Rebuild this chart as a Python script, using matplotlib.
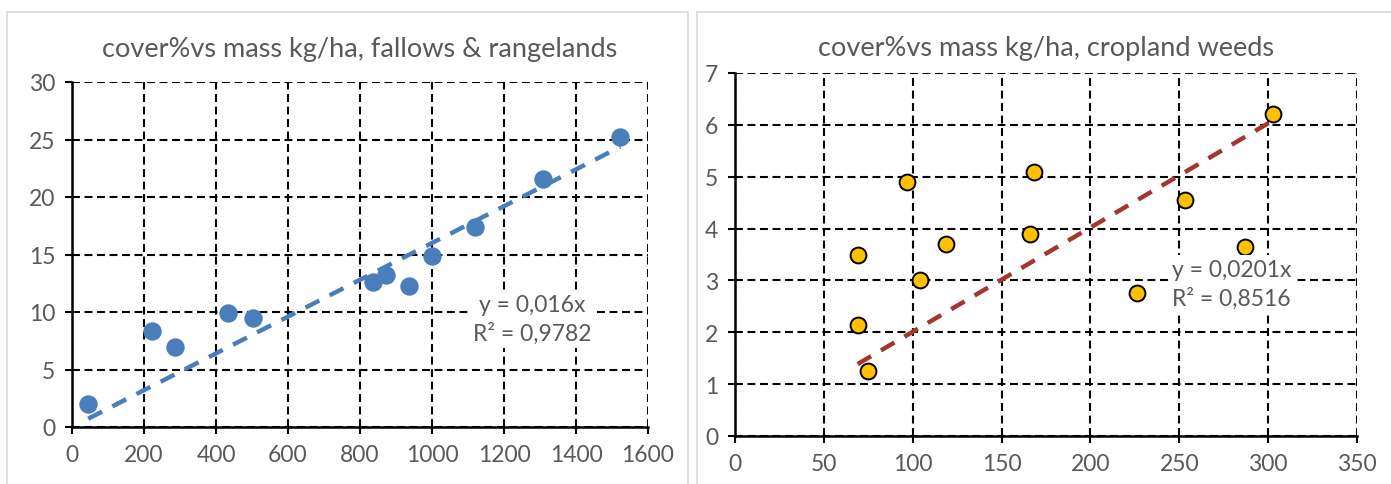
import matplotlib.pyplot as plt
from matplotlib.patches import Rectangle

# fallows & rangelands
mass_range = [45, 222, 285, 432, 502, 836, 872, 937, 1000, 1120, 1308, 1523]
cover_range = [2.0, 8.35, 6.95, 9.95, 9.5, 12.6, 13.2, 12.3, 14.9, 17.4, 21.6, 25.2]
slope_range = "0,016"
r2_range = "0,9782"

# cropland weeds
mass_crop = [69, 69, 75, 97, 104, 119, 166, 168, 226, 253, 287, 303]
cover_crop = [3.5, 2.15, 1.25, 4.9, 3.0, 3.7, 3.9, 5.1, 2.75, 4.55, 3.65, 6.2]
slope_crop = "0,0201"
r2_crop = "0,8516"

plt.rcParams['font.family'] = ['Lato', 'DejaVu Sans']
grey = "#595959"

fig = plt.figure(figsize=(13.91, 4.85), dpi=100)
W, H = 1391, 485

# chart area frames
fig.patches.append(Rectangle((7 / W, -0.01), 681 / W, 1 - 13 / H + 0.01, transform=fig.transFigure,
                             fill=False, edgecolor="#D9D9D9", lw=1.2))
fig.patches.append(Rectangle((697 / W, -0.01), 700 / W, 1 - 13 / H + 0.01, transform=fig.transFigure,
                             fill=False, edgecolor="#D9D9D9", lw=1.2))


def style(ax, xmax, xstep, ymax, ystep):
    ax.set_xlim(0, xmax)
    ax.set_ylim(0, ymax)
    ax.set_xticks(range(0, xmax + 1, xstep))
    ax.set_yticks(range(0, ymax + 1, ystep))
    ax.grid(True, color="black", linestyle=(0, (3.8, 2.2)), linewidth=1.5)
    ax.set_axisbelow(True)
    for s in ["top", "right"]:
        ax.spines[s].set_visible(False)
    for s in ["left", "bottom"]:
        ax.spines[s].set_linewidth(1.8)
    ax.tick_params(direction="out", length=5, width=1.5, labelsize=16.5, labelcolor=grey, pad=7)


def num(s):
    return float(s.replace(",", "."))


ax1 = fig.add_axes([72 / W, 1 - 428 / H, 576 / W, 345 / H])
style(ax1, 1600, 200, 30, 5)
xs = [min(mass_range), max(mass_range)]
ax1.plot(xs, [num(slope_range) * x for x in xs], color="#4A7EBB", lw=3.2, linestyle=(0, (3.5, 2.6)), zorder=3)
ax1.scatter(mass_range, cover_range, s=150, color="#4A7EBB", zorder=4)
ax1.set_title("cover%vs mass kg/ha, fallows & rangelands", fontsize=19.5, color=grey, pad=19)
ax1.text(1278, 9.4, f"y = {slope_range}x\nR² = {r2_range}", ha="center", va="center",
         fontsize=16.5, color=grey, linespacing=1.4, zorder=5,
         bbox=dict(facecolor="white", edgecolor="none", pad=3))

ax2 = fig.add_axes([735 / W, 1 - 437 / H, 622 / W, 363 / H])
style(ax2, 350, 50, 7, 1)
xs = [min(mass_crop), max(mass_crop)]
ax2.plot(xs, [num(slope_crop) * x for x in xs], color="#A5352F", lw=3.2, linestyle=(0, (3.5, 2.6)), zorder=3)
ax2.scatter(mass_crop, cover_crop, s=130, color="#FFC000", edgecolors="black", linewidths=1.4, zorder=4)
ax2.set_title("cover%vs mass kg/ha, cropland weeds", fontsize=19.5, color=grey, pad=13)
ax2.text(246, 3.42, f"y = {slope_crop}x\nR² = {r2_crop}", ha="left", va="top",
         fontsize=16.5, color=grey, linespacing=1.4, zorder=5,
         bbox=dict(facecolor="white", edgecolor="none", pad=3))

fig.savefig("out.png", dpi=100)
